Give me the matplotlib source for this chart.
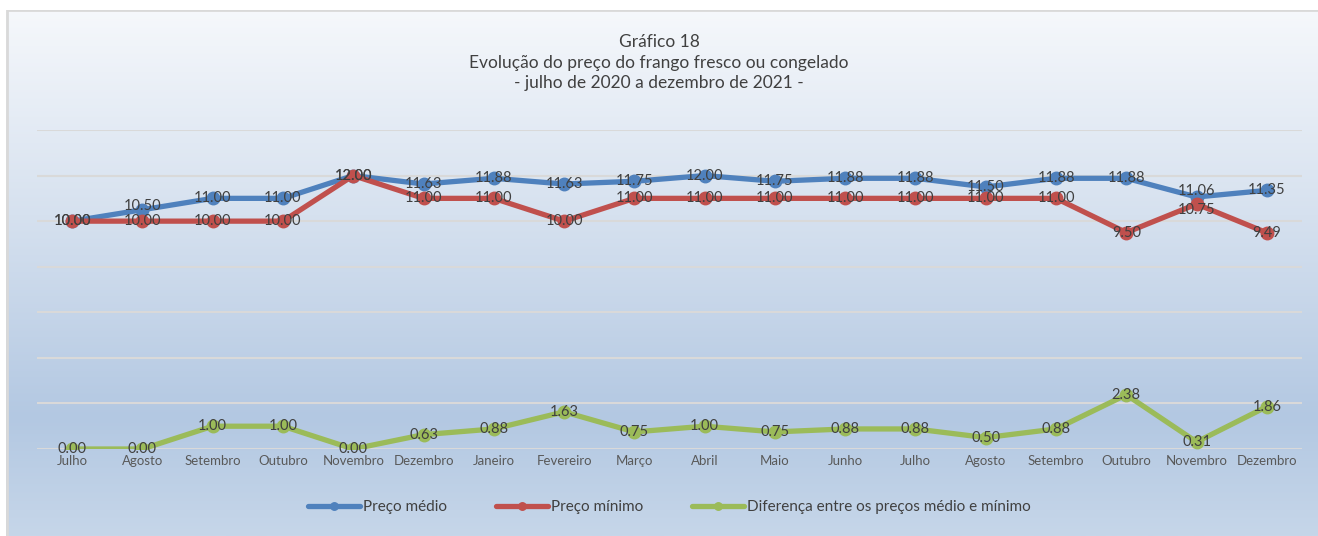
import matplotlib.pyplot as plt
import numpy as np
from matplotlib.colors import LinearSegmentedColormap
from matplotlib.patches import Rectangle

meses = ['Julho', 'Agosto', 'Setembro', 'Outubro', 'Novembro', 'Dezembro',
         'Janeiro', 'Fevereiro', 'Março', 'Abril', 'Maio', 'Junho',
         'Julho', 'Agosto', 'Setembro', 'Outubro', 'Novembro', 'Dezembro']
preco_medio = [10.00, 10.50, 11.00, 11.00, 12.00, 11.63, 11.88, 11.63, 11.75,
               12.00, 11.75, 11.88, 11.88, 11.50, 11.88, 11.88, 11.06, 11.35]
preco_minimo = [10.00, 10.00, 10.00, 10.00, 12.00, 11.00, 11.00, 10.00, 11.00,
                11.00, 11.00, 11.00, 11.00, 11.00, 11.00, 9.50, 10.75, 9.49]
diferenca = [0.00, 0.00, 1.00, 1.00, 0.00, 0.63, 0.88, 1.63, 0.75,
             1.00, 0.75, 0.88, 0.88, 0.50, 0.88, 2.38, 0.31, 1.86]

plt.rcParams['font.family'] = ['Lato', 'DejaVu Sans']
txt = '#404040'

fig = plt.figure(figsize=(13.18, 5.36), dpi=100)
fig.patch.set_facecolor('white')

# background gradient (white at top -> light blue)
bg = fig.add_axes([0, 0, 1, 1], zorder=0)
cmap = LinearSegmentedColormap.from_list(
    'bg', [(0, '#c6d6e9'), (0.22, '#b3c8e2'), (0.6, '#d6e1ef'), (1, '#f7f9fc')])
grad = np.linspace(0, 1, 256).reshape(-1, 1)
bg.imshow(grad, aspect='auto', cmap=cmap, origin='lower', extent=[0, 1, 0, 1])
bg.add_patch(Rectangle((7 / 1318, -0.1), 1.1, 1.1 - 10 / 536, fill=False,
                       edgecolor='#d9d9d9', linewidth=2, transform=bg.transAxes))
bg.set_xlim(0, 1)
bg.set_ylim(0, 1)
bg.axis('off')

# white margin outside the chart box
fig.patches.append(Rectangle((0, 1 - 10 / 536), 1, 10 / 536, transform=fig.transFigure,
                             facecolor='white', edgecolor='none', zorder=1))
fig.patches.append(Rectangle((0, 0), 6 / 1318, 1, transform=fig.transFigure,
                             facecolor='white', edgecolor='none', zorder=1))

ax = fig.add_axes([37 / 1318, 1 - 449 / 536, 1265 / 1318, 319 / 536], zorder=2)
ax.patch.set_alpha(0)

x = np.arange(len(meses))
series = [(preco_medio, '#4f81bd', 'Preço médio'),
          (preco_minimo, '#c0504d', 'Preço mínimo'),
          (diferenca, '#9bbb59', 'Diferença entre os preços médio e mínimo')]
# small nudges (points) for labels that sit on top of each other
nudge = {(0, 1): 3, (0, 16): 4, (1, 16): -4}
for k, (vals, col, lab) in enumerate(series):
    ax.plot(x, vals, color=col, lw=3.8, marker='o', ms=9, label=lab,
            solid_capstyle='round', zorder=3)
    for xi, v in zip(x, vals):
        ax.annotate(f'{v:.2f}', (xi, v), xytext=(0, nudge.get((k, xi), 0)),
                    textcoords='offset points', ha='center', va='center',
                    fontsize=10.5, color=txt, zorder=5)

ax.set_xlim(-0.5, len(meses) - 0.5)
ax.set_ylim(0, 14)
ax.set_yticks(np.arange(0, 15, 2))
ax.yaxis.grid(True, color='#d9d9d9', lw=1.5)
ax.set_axisbelow(True)
ax.tick_params(axis='y', left=False, labelleft=False)
ax.tick_params(axis='x', length=0, pad=4)
ax.set_xticks(x)
ax.set_xticklabels(meses, fontsize=9.5, color='#595959')
for s in ax.spines.values():
    s.set_visible(False)

fig.text(0.5, 1 - 42 / 536, 'Gráfico 18', ha='center', va='center', fontsize=12.5, color=txt)
fig.text(0.5, 1 - 63 / 536, 'Evolução do preço do frango fresco ou congelado',
         ha='center', va='center', fontsize=12.5, color=txt)
fig.text(0.5, 1 - 83 / 536, '- julho de 2020 a dezembro de 2021 -',
         ha='center', va='center', fontsize=12.5, color=txt)

leg = fig.legend(loc='center', bbox_to_anchor=(0.508, 1 - 507 / 536), ncol=3,
                 frameon=False, fontsize=11, handlelength=3.4, columnspacing=3.2,
                 handletextpad=0.2, markerscale=0.6)
for t in leg.get_texts():
    t.set_color(txt)

fig.savefig('out.png', dpi=100)
